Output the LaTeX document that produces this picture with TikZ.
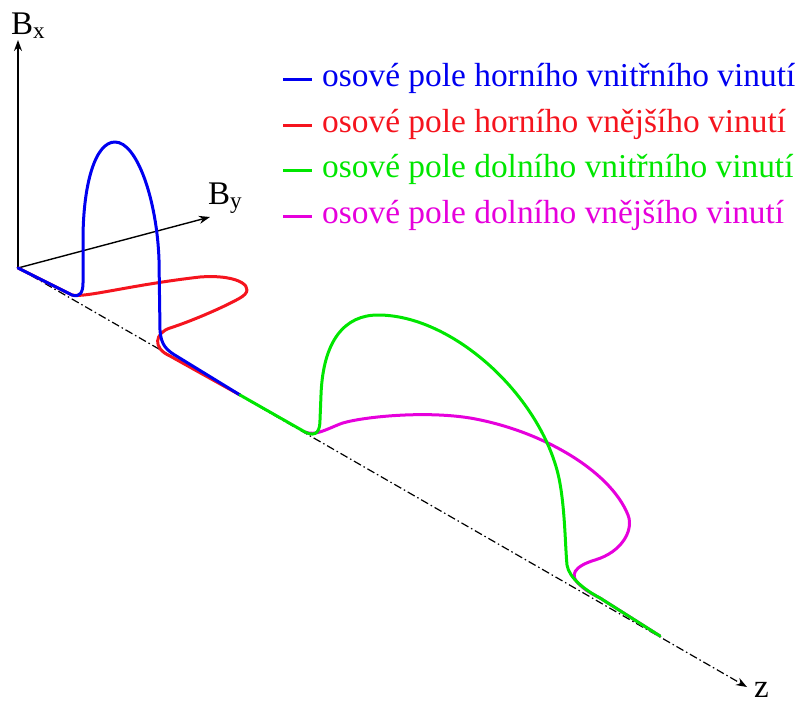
\documentclass[tikz,border=0pt]{standalone}
\usepackage{fontspec}
\setmainfont{Liberation Serif}
\usetikzlibrary{arrows.meta,positioning,calc}
\definecolor{hinner}{RGB}{0,0,240}
\definecolor{houter}{RGB}{245,20,30}
\definecolor{dinner}{RGB}{0,230,0}
\definecolor{douter}{RGB}{230,0,220}
\tikzset{
  axarr/.style={-{Stealth[length=11pt,width=8pt]}, black, line width=1.4pt},
  zaxis/.style={-{Stealth[length=11pt,width=8pt]}, black, line width=1.2pt,
                dash pattern=on 8pt off 3pt on 1.5pt off 3pt},
  fieldcurve/.style={line width=3pt, line cap=round, line join=round},
  legline/.style={line width=3pt},
  legtext/.style={anchor=base west, font=\fontsize{33.4}{40}\selectfont, inner sep=0pt},
  axlabel/.style={anchor=base west, font=\fontsize{33}{40}\selectfont, inner sep=0pt},
}

\begin{document}
\begin{tikzpicture}[x=1pt, y=-1pt]
  \useasboundingbox (0,0) rectangle (800,703);
  % axes
  \coordinate (O) at (18,268);
  \coordinate (bxtip) at (18,40);
  \coordinate (bytip) at (210,217);
  \coordinate (ztip) at (747,687);
  \draw[zaxis] (O) -- (ztip);
  \draw[axarr] (O) -- (bxtip);
  \draw[axarr] (O) -- (bytip);
  \node[axlabel] (bxlab) at (11,35) {B\textsubscript{x}};
  \node[axlabel] (bylab) at (208,205) {B\textsubscript{y}};
  \node[axlabel] (zlab) at (754,697) {z};
  % upper winding, outer
  \draw[fieldcurve, houter] (O) -- (72,295) .. controls (85,298) and (130,285) .. (200,277)
    .. controls (240,274) and (258,288) .. (240,298)
    .. controls (228,305) and (195,320) .. (170,328)
    .. controls (155,333) and (152,348) .. (170,356) -- (240,395);
  % upper winding, inner
  \draw[fieldcurve, hinner] (O) -- (72,295) .. controls (80,298) and (83,292) .. (83,283) -- (83,240)
    .. controls (83,185) and (95,142) .. (115,142)
    .. controls (137,142) and (157,200) .. (159,260) -- (160,330)
    .. controls (161,345) and (166,350) .. (178,357) -- (240,395);
  % lower winding, outer
  \draw[fieldcurve, douter] (305,432) .. controls (315,436) and (325,430) .. (340,424)
    .. controls (355,418) and (420,410) .. (470,418)
    .. controls (540,430) and (610,470) .. (628,515)
    .. controls (634,530) and (622,552) .. (595,560)
    .. controls (575,566) and (568,575) .. (580,585)
    .. controls (585,590) and (592,594) .. (600,598) -- (660,636);
  % lower winding, inner
  \draw[fieldcurve, dinner] (240,395) -- (305,432) .. controls (317,438) and (320,430) .. (320,420) -- (321,395)
    .. controls (323,340) and (345,315) .. (378,315)
    .. controls (450,315) and (535,390) .. (557,470)
    .. controls (565,499) and (565,545) .. (567,565)
    .. controls (569,578) and (585,590) .. (600,598) -- (660,636);
  % legend
  \node[legtext, text=hinner] (leg1) at (322,87) {osové pole horního vnitřního vinutí};
  \node[legtext, text=houter] (leg2) at (322,132.5) {osové pole horního vnějšího vinutí};
  \node[legtext, text=dinner] (leg3) at (322,178) {osové pole dolního vnitřního vinutí};
  \node[legtext, text=douter] (leg4) at (322,223.5) {osové pole dolního vnějšího vinutí};
  \draw[legline, hinner] ([xshift=-39pt,yshift=7pt]leg1.base west) -- ++(29,0);
  \draw[legline, houter] ([xshift=-39pt,yshift=7pt]leg2.base west) -- ++(29,0);
  \draw[legline, dinner] ([xshift=-39pt,yshift=7pt]leg3.base west) -- ++(29,0);
  \draw[legline, douter] ([xshift=-39pt,yshift=7pt]leg4.base west) -- ++(29,0);
\end{tikzpicture}
\end{document}
